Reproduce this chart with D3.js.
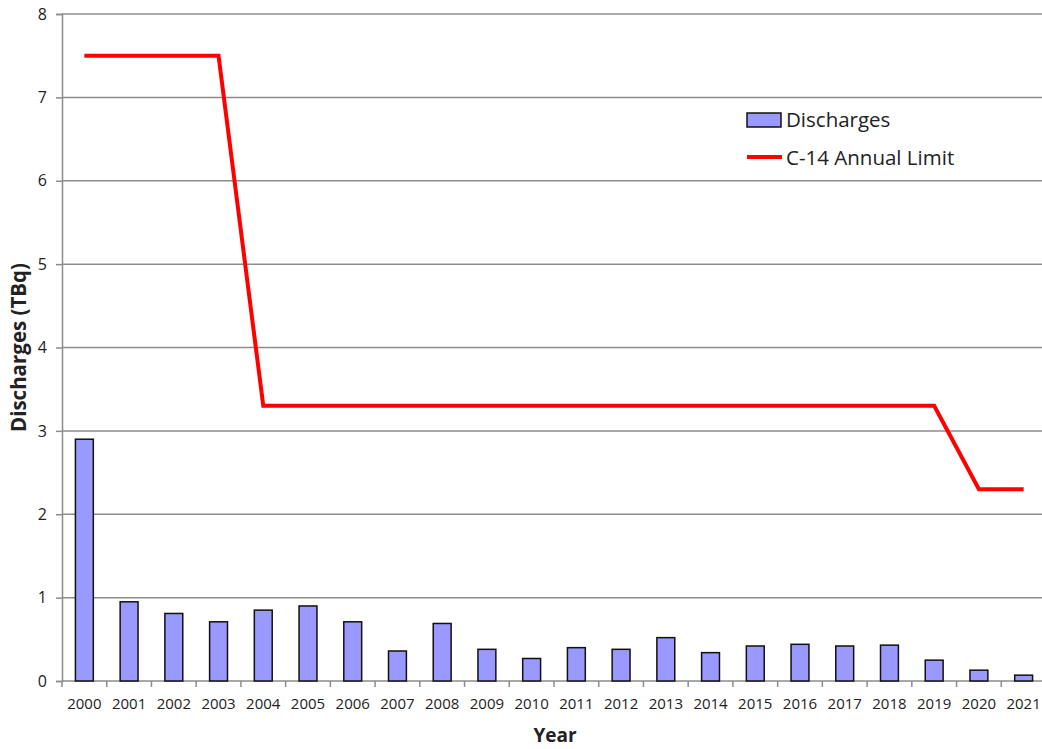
<!DOCTYPE html>
<html>
<head>
<meta charset="utf-8">
<script src="https://cdn.jsdelivr.net/npm/d3@7"></script>
<style>
  body { margin: 0; background: #fff; }
  text { font-family: "Open Sans", "DejaVu Sans", sans-serif; fill: #222; }
</style>
</head>
<body>
<svg id="chart" width="1042" height="749"></svg>
<script>
const years = ["2000","2001","2002","2003","2004","2005","2006","2007","2008","2009","2010",
               "2011","2012","2013","2014","2015","2016","2017","2018","2019","2020","2021"];
const discharges = [2.90,0.95,0.81,0.71,0.85,0.90,0.71,0.36,0.69,0.38,0.27,
                    0.40,0.38,0.52,0.34,0.42,0.44,0.42,0.43,0.25,0.13,0.07];
const annualLimit = [7.5,7.5,7.5,7.5,3.3,3.3,3.3,3.3,3.3,3.3,3.3,
                     3.3,3.3,3.3,3.3,3.3,3.3,3.3,3.3,3.3,2.3,2.3];
const yTicks = [0,1,2,3,4,5,6,7,8];

const svg = d3.select("#chart");
const margin = {top:14, right:-4, bottom:68, left:62};
const width = +svg.attr("width");
const height = +svg.attr("height");

const x = d3.scaleBand().domain(years).range([margin.left, width - margin.right]).paddingInner(0.6).paddingOuter(0.3);
const xStep = d3.scaleBand().domain(years).range([margin.left, width - margin.right]);
const y = d3.scaleLinear().domain([0,8]).range([height - margin.bottom, margin.top]);

// gridlines
svg.append("g")
  .selectAll("line")
  .data(yTicks.slice(1))
  .join("line")
  .attr("x1", margin.left).attr("x2", width)
  .attr("y1", d => y(d)).attr("y2", d => y(d))
  .attr("stroke", "#8c8c8c").attr("stroke-width", 1.5);

// y axis
const yAxis = svg.append("g")
  .attr("transform", `translate(${margin.left},0)`)
  .call(d3.axisLeft(y).tickValues(yTicks).tickFormat(d3.format("d")).tickSize(6).tickPadding(9));
yAxis.select(".domain").attr("stroke", "#8c8c8c").attr("stroke-width", 1.5);
yAxis.selectAll(".tick line").attr("stroke", "#8c8c8c").attr("stroke-width", 1.5);
yAxis.selectAll("text").style("font-size", "16px").attr("fill", "#222");

// x axis ticks between categories
const xg = svg.append("g").attr("transform", `translate(0,${y(0)})`);
xg.append("line").attr("x1", margin.left).attr("x2", width).attr("y1", 0).attr("y2", 0)
  .attr("stroke", "#8c8c8c").attr("stroke-width", 1.5);
xg.selectAll(".tk")
  .data(years)
  .join("line")
  .attr("class", "tk")
  .attr("x1", d => xStep(d)).attr("x2", d => xStep(d))
  .attr("y1", 0).attr("y2", 6)
  .attr("stroke", "#8c8c8c").attr("stroke-width", 1.5);
xg.selectAll("text")
  .data(years)
  .join("text")
  .attr("x", d => xStep(d) + xStep.bandwidth() / 2)
  .attr("y", 28)
  .attr("text-anchor", "middle")
  .style("font-size", "15px")
  .text(d => d);

// bars
svg.append("g")
  .selectAll("rect")
  .data(years.map((yr, i) => ({yr, v: discharges[i]})))
  .join("rect")
  .attr("x", d => x(d.yr))
  .attr("y", d => y(d.v))
  .attr("width", x.bandwidth())
  .attr("height", d => y(0) - y(d.v))
  .attr("fill", "#9999ff")
  .attr("stroke", "#111")
  .attr("stroke-width", 1.5);

// limit line
const line = d3.line()
  .x((d, i) => xStep(years[i]) + xStep.bandwidth() / 2)
  .y(d => y(d));
svg.append("path")
  .datum(annualLimit)
  .attr("d", line)
  .attr("fill", "none")
  .attr("stroke", "#ff0000")
  .attr("stroke-width", 4);

// axis titles
svg.append("text")
  .attr("x", 555).attr("y", 742)
  .attr("text-anchor", "middle")
  .style("font-size", "19px").style("font-weight", "bold")
  .attr("fill", "#111")
  .text("Year");
svg.append("text")
  .attr("transform", `translate(26,${(y(0) + y(8)) / 2}) rotate(-90)`)
  .attr("text-anchor", "middle")
  .style("font-size", "20.5px").style("font-weight", "bold")
  .attr("fill", "#111")
  .text("Discharges (TBq)");

// legend
const lg = svg.append("g").attr("transform", "translate(747,0)");
lg.append("rect").attr("x", 0).attr("y", 113).attr("width", 34).attr("height", 14)
  .attr("fill", "#9999ff").attr("stroke", "#111").attr("stroke-width", 1.5);
lg.append("text").attr("x", 39).attr("y", 127).style("font-size", "20.5px").text("Discharges");
lg.append("line").attr("x1", 0).attr("x2", 35).attr("y1", 157).attr("y2", 157)
  .attr("stroke", "#ff0000").attr("stroke-width", 4);
lg.append("text").attr("x", 39).attr("y", 165).style("font-size", "20.5px").text("C-14 Annual Limit");
</script>
</body>
</html>
